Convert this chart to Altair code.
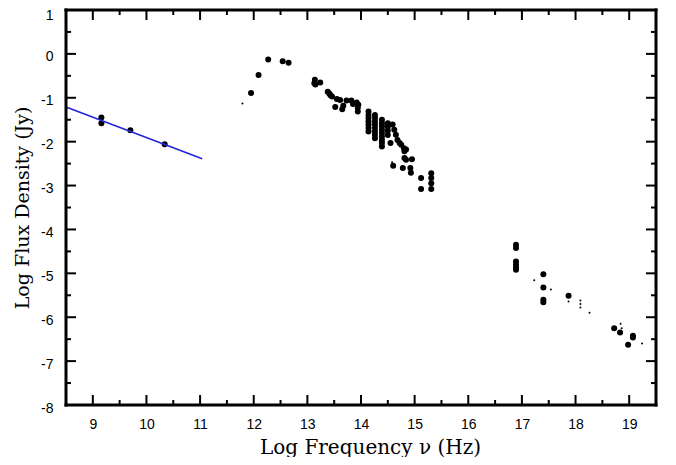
import altair as alt
import pandas as pd

# Large data points (log nu, log flux)
big_x = [9.16, 9.16, 9.70, 10.34,
         11.95, 12.09, 12.27, 12.54, 12.65,
         13.13, 13.14, 13.15, 13.24,
         13.38, 13.41, 13.43, 13.46,
         13.52, 13.55, 13.61, 13.65, 13.67,
         13.73, 13.82, 13.85, 13.92, 13.95, 13.94, 13.94,
         14.14, 14.14, 14.14, 14.14, 14.14, 14.14, 14.14,
         14.26, 14.26, 14.26, 14.26, 14.26, 14.26, 14.26, 14.26,
         14.39, 14.39, 14.39, 14.39, 14.39, 14.39, 14.39, 14.39, 14.39,
         14.50, 14.50, 14.50, 14.50,
         14.55, 14.59, 14.62, 14.65,
         14.68, 14.72, 14.75, 14.80, 14.81, 14.84,
         14.81, 14.84, 14.95,
         14.60, 14.78, 14.92, 14.93,
         15.12, 15.12,
         15.31, 15.31, 15.31, 15.31,
         16.89, 16.89, 16.89, 16.89, 16.89, 16.89,
         17.40, 17.40, 17.40, 17.40,
         17.87, 18.72, 18.83, 18.98, 19.07, 19.07]
big_y = [-1.45, -1.58, -1.74, -2.06,
         -0.89, -0.48, -0.13, -0.17, -0.20,
         -0.67, -0.59, -0.70, -0.65,
         -0.86, -0.90, -0.94, -0.97,
         -1.21, -1.03, -1.05, -1.26, -1.18,
         -1.06, -1.06, -1.14, -1.11, -1.16, -1.23, -1.31,
         -1.31, -1.39, -1.46, -1.54, -1.61, -1.69, -1.77,
         -1.39, -1.46, -1.54, -1.61, -1.69, -1.77, -1.84, -1.92,
         -1.50, -1.58, -1.65, -1.73, -1.80, -1.88, -1.96, -2.03, -2.11,
         -1.58, -1.66, -1.75, -1.85,
         -2.03, -1.61, -1.73, -1.84,
         -1.96, -2.03, -2.07, -2.15, -2.22, -2.18,
         -2.37, -2.41, -2.40,
         -2.55, -2.60, -2.60, -2.71,
         -2.83, -3.08,
         -2.72, -2.83, -2.95, -3.08,
         -4.35, -4.42, -4.73, -4.80, -4.86, -4.92,
         -5.02, -5.32, -5.60, -5.66,
         -5.51, -6.25, -6.35, -6.63, -6.42, -6.46]

# Tiny data points
small_x = [11.79, 14.58, 17.23, 17.54, 17.87, 18.09, 18.09, 18.09, 18.26, 18.84, 18.86, 19.24]
small_y = [-1.13, -2.47, -5.16, -5.37, -5.64, -5.62, -5.70, -5.78, -5.90, -6.15, -6.25, -6.60]

# Radio power-law fit line
fit_x = [8.5, 11.04]
fit_y = [-1.21, -2.39]

x_major = list(range(9, 20))
x_minor = [v + 0.5 for v in range(9, 19)]
y_major = list(range(-7, 1))
y_minor = [v + 0.5 for v in range(-8, 1)]
x_labels = list(range(9, 20))
y_labels = list(range(-8, 2))

W, H = 590, 395
xs = alt.Scale(domain=[8.5, 19.5], nice=False, zero=False)
ys = alt.Scale(domain=[-8, 1], nice=False, zero=False)

x_axis = alt.Axis(
    values=x_labels, ticks=False, tickSize=0, domain=False, grid=False,
    labelExpr="'' + datum.value",
    labelFont="Liberation Sans", labelFontSize=14, labelColor="black",
    labelPadding=12, title="Log Frequency \u03bd (Hz)",
    titleFont="DejaVu Serif", titleFontSize=20, titleFontWeight="normal",
    titleColor="black", titleX=304, titleY=48, titleBaseline="alphabetic")
y_axis = alt.Axis(
    values=y_labels, ticks=False, tickSize=0, domain=False, grid=False,
    labelExpr="'' + datum.value",
    labelFont="Liberation Sans", labelFontSize=14, labelColor="black",
    labelPadding=13,
    labelBaseline=alt.condition("datum.value == 1", alt.value("top"), alt.value("middle")),
    labelOffset=alt.condition("datum.value == 1", alt.value(-2), alt.value(3)),
    title="Log Flux Density (Jy)",
    titleFont="DejaVu Serif", titleFontSize=19, titleFontWeight="normal",
    titleColor="black", titlePadding=8)

big = pd.DataFrame({"x": big_x, "y": big_y})
small = pd.DataFrame({"x": small_x, "y": small_y})
fit = pd.DataFrame({"x": fit_x, "y": fit_y})

points = alt.Chart(big).mark_circle(color="black", opacity=1, size=36).encode(
    x=alt.X("x:Q", scale=xs, axis=x_axis),
    y=alt.Y("y:Q", scale=ys, axis=y_axis),
)

tiny = alt.Chart(small).mark_circle(color="black", opacity=1, size=4).encode(
    x=alt.X("x:Q", scale=xs, axis=x_axis),
    y=alt.Y("y:Q", scale=ys, axis=y_axis),
)

line = alt.Chart(fit).mark_line(color="#2626d9", strokeWidth=1.7).encode(
    x=alt.X("x:Q", scale=xs, axis=x_axis),
    y=alt.Y("y:Q", scale=ys, axis=y_axis),
)

# plot frame as four rules
frame_b = alt.Chart(pd.DataFrame({"v": [0]})).mark_rule(color="#000000", strokeWidth=3).encode(
    x=alt.value(-1.5), x2=alt.value(W + 1.5), y=alt.value(H))
frame_t = alt.Chart(pd.DataFrame({"v": [0]})).mark_rule(color="#000000", strokeWidth=3).encode(
    x=alt.value(-1.5), x2=alt.value(W + 1.5), y=alt.value(0))
frame_l = alt.Chart(pd.DataFrame({"v": [0]})).mark_rule(color="#000000", strokeWidth=3).encode(
    y=alt.value(-1.5), y2=alt.value(H + 1.5), x=alt.value(0))
frame_r = alt.Chart(pd.DataFrame({"v": [0]})).mark_rule(color="#000000", strokeWidth=3).encode(
    y=alt.value(-1.5), y2=alt.value(H + 1.5), x=alt.value(W))


def xticks(vals, length):
    d = pd.DataFrame({"v": vals})
    base = alt.Chart(d).mark_rule(color="#000000", strokeWidth=2, opacity=1)
    bottom = base.encode(x=alt.X("v:Q", scale=xs, axis=x_axis),
                         y=alt.value(H), y2=alt.value(H - length))
    top = base.encode(x=alt.X("v:Q", scale=xs, axis=x_axis),
                      y=alt.value(0), y2=alt.value(length))
    return [bottom, top]


def yticks(vals, length):
    d = pd.DataFrame({"v": vals})
    base = alt.Chart(d).mark_rule(color="#000000", strokeWidth=2, opacity=1)
    left = base.encode(y=alt.Y("v:Q", scale=ys, axis=y_axis),
                       x=alt.value(0), x2=alt.value(length))
    right = base.encode(y=alt.Y("v:Q", scale=ys, axis=y_axis),
                        x=alt.value(W), x2=alt.value(W - length))
    return [left, right]


tick_layers = xticks(x_major, 10) + xticks(x_minor, 5) + yticks(y_major, 10) + yticks(y_minor, 5)

chart = alt.layer(points, tiny, line, frame_b, frame_t, frame_l, frame_r, *tick_layers).properties(
    width=W, height=H,
    background="white",
    autosize=alt.AutoSizeParams(type="none"),
    padding={"left": 58, "top": 2, "right": 12, "bottom": 52},
).configure_view(strokeWidth=0)

chart.save("out.html", embed_options={"renderer": "svg", "actions": False})
